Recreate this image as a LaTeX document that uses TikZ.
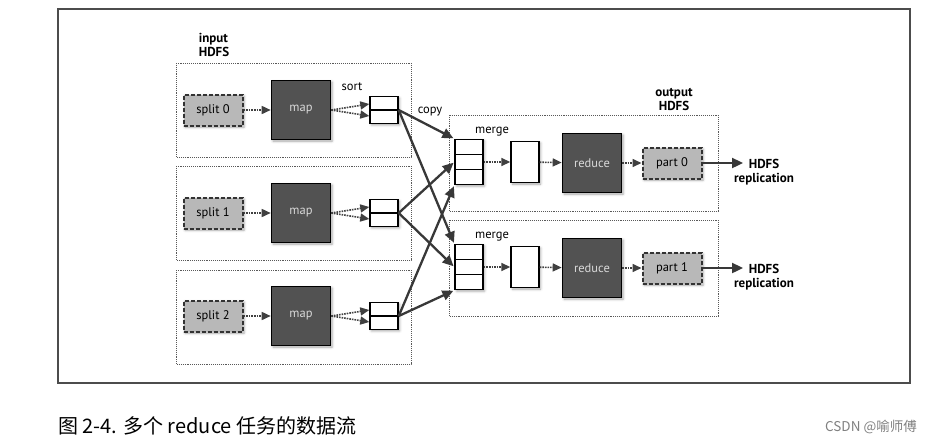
\documentclass[tikz,border=0pt]{standalone}
\usepackage{fontspec}
\setmainfont{PT Sans}
\newfontfamily\cjk{Noto Sans CJK SC}
\usetikzlibrary{arrows.meta,shapes.multipart,shadows.blur}

\begin{document}
\begin{tikzpicture}[x=1pt,y=-1pt,
        every node/.style={inner sep=0pt,font=\fontsize{12.5}{14}\selectfont},
        boxshadow/.style={blur shadow={shadow xshift=1.5pt,shadow yshift=-1.5pt,shadow blur radius=2.5pt,shadow opacity=35}},
        hdfsbox/.style={draw=black!65,densely dotted,line width=0.9pt},
        splitbox/.style={boxshadow,draw=black!80,fill=black!28,line width=2pt,dash pattern=on 4pt off 2pt,minimum width=59pt,minimum height=31pt},
        taskbox/.style={boxshadow,draw=black,fill=black!68,line width=1.6pt,text=black!15,minimum width=59pt,minimum height=59pt},
        buffer/.style={boxshadow,draw=black,fill=white,line width=1.4pt,rectangle split,rectangle split empty part height=#1,rectangle split empty part depth=0pt,minimum width=28pt},
        plainbox/.style={boxshadow,draw=black,fill=white,line width=1.4pt,minimum width=28pt,minimum height=41pt},
        boldlabel/.style={font=\bfseries\fontsize{13}{14}\selectfont},
        dotarrow/.style={densely dotted,line width=1.6pt,draw=black!75,-{Triangle[length=9pt,width=8pt]}},
        copyarrow/.style={line width=2.3pt,draw=black!78,-{Triangle[length=11pt,width=10pt]},shorten >=1pt},
        reparrow/.style={line width=2.3pt,draw=black!78,-{Triangle[length=11pt,width=10pt]}}
        ]
        \useasboundingbox (0,0) rectangle (931,442);
        \draw[line width=1.2pt,draw=black!70] (58,9) rectangle (910,383);

        % map side
        \node[boldlabel,align=left] (inlabel) at (214,45) {input\\HDFS};
        \draw[hdfsbox] (176,63) rectangle (411,157);
        \draw[hdfsbox] (176,166) rectangle (411,260);
        \draw[hdfsbox] (176,270) rectangle (411,364);

        \node[splitbox] (split0) at (213,110) {split 0};
        \node[splitbox] (split1) at (213,213) {split 1};
        \node[splitbox] (split2) at (213,316) {split 2};

        \node[taskbox] (map0) at (301,110) {map};
        \node[taskbox] (map1) at (301,213) {map};
        \node[taskbox] (map2) at (301,316) {map};

        \node[buffer=12pt,rectangle split parts=2] (sort0) at (384,110) {};
        \node[buffer=12pt,rectangle split parts=2] (sort1) at (384,213) {};
        \node[buffer=12pt,rectangle split parts=2] (sort2) at (384,316) {};
        \node (sortlabel) at (352,87) {sort};
        \node (copylabel) at (430,112) {copy};

        \draw[dotarrow] (split0) to (map0);
        \draw[dotarrow] (split1) to (map1);
        \draw[dotarrow] (split2) to (map2);
        \draw[dotarrow] (map0.east) to ([yshift=6pt]sort0.west);
        \draw[dotarrow] (map0.east) to ([yshift=-6pt]sort0.west);
        \draw[dotarrow] (map1.east) to ([yshift=6pt]sort1.west);
        \draw[dotarrow] (map1.east) to ([yshift=-6pt]sort1.west);
        \draw[dotarrow] (map2.east) to ([yshift=6pt]sort2.west);
        \draw[dotarrow] (map2.east) to ([yshift=-6pt]sort2.west);

        % reduce side
        \node[boldlabel,align=center] (outlabel) at (674,99) {output\\HDFS};
        \draw[hdfsbox] (449,115) rectangle (718,211);
        \draw[hdfsbox] (449,220) rectangle (718,316);

        \node[buffer=13.67pt,rectangle split parts=3] (merge0) at (469,162) {};
        \node[buffer=13.67pt,rectangle split parts=3] (merge1) at (469,267) {};
        \node (mergelabel0) at (492,132) {merge};
        \node (mergelabel1) at (492,237) {merge};

        \node[plainbox] (sorted0) at (525,162) {};
        \node[plainbox] (sorted1) at (525,267) {};

        \node[taskbox] (reduce0) at (592,163) {reduce};
        \node[taskbox] (reduce1) at (592,268) {reduce};

        \node[splitbox] (part0) at (672,163) {part 0};
        \node[splitbox] (part1) at (672,268) {part 1};

        \coordinate (rep0) at (743,163);
        \coordinate (rep1) at (743,268);
        \node[boldlabel,align=center] (hdfs0) at (764,172) {HDFS\\replication};
        \node[boldlabel,align=center] (hdfs1) at (764,277) {HDFS\\replication};

        \draw[dotarrow] (merge0) to (sorted0);
        \draw[dotarrow] (sorted0) to (reduce0);
        \draw[dotarrow] (reduce0) to (part0);
        \draw[dotarrow] (merge1) to (sorted1);
        \draw[dotarrow] (sorted1) to (reduce1);
        \draw[dotarrow] (reduce1) to (part1);
        \draw[reparrow] (part0) to (rep0);
        \draw[reparrow] (part1) to (rep1);

        % copy phase
        \draw[copyarrow] (sort0.east) to (merge0.north west);
        \draw[copyarrow] (sort0.east) to (merge1.north west);
        \draw[copyarrow] (sort1.east) to (merge0.west);
        \draw[copyarrow] (sort1.east) to (merge1.west);
        \draw[copyarrow] (sort2.east) to (merge0.south west);
        \draw[copyarrow] (sort2.east) to (merge1.south west);

        % caption
        \node[anchor=west,font=\cjk\fontsize{20}{22}\selectfont] (caption) at (58,426) {图 2-4. 多个 reduce 任务的数据流};
        \node[anchor=east,font=\cjk\fontsize{13.5}{15}\selectfont,text=black!50] (credit) at (917,427) {CSDN @喻师傅};
    \end{tikzpicture}
\end{document}
